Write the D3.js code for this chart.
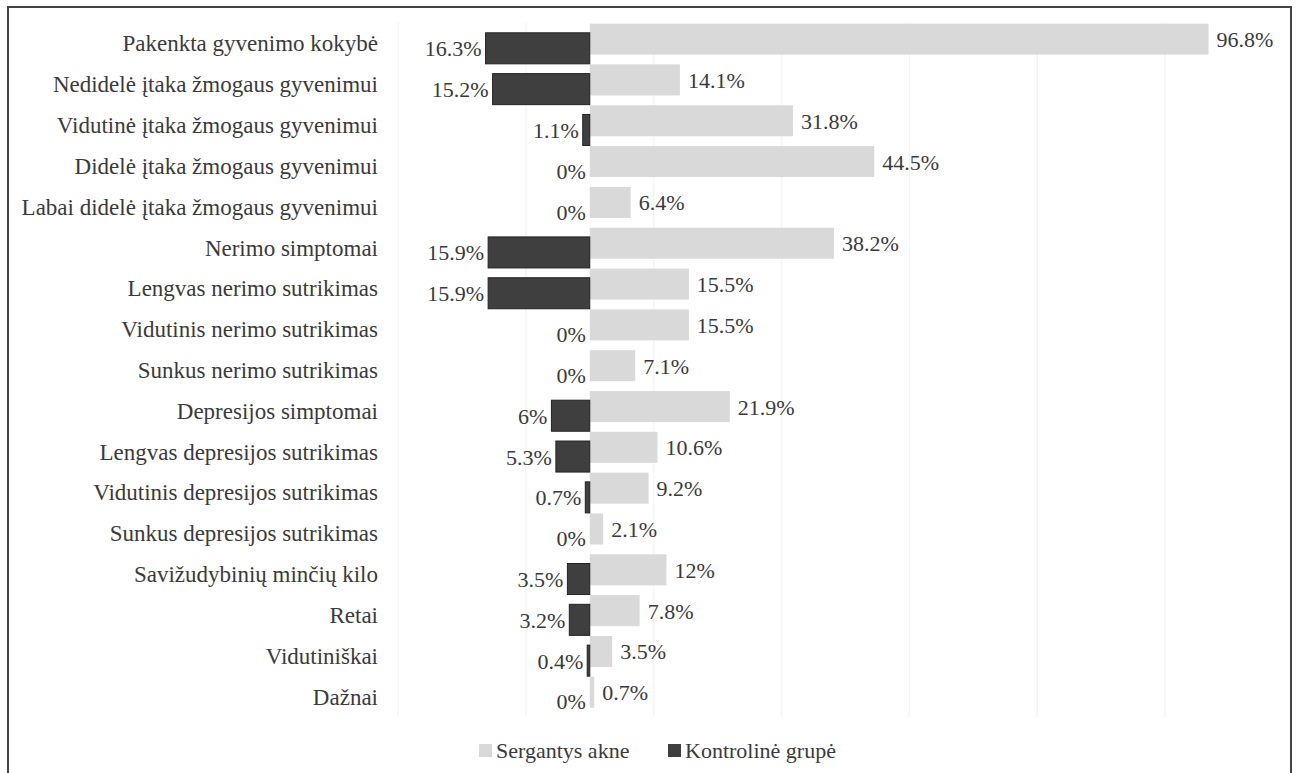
<!DOCTYPE html>
<html>
  <head>
    <meta charset="utf-8">
    <script src="https://cdnjs.cloudflare.com/ajax/libs/d3/7.8.5/d3.min.js"></script>
  </head>
  <body style="margin:0">

    <svg width="1296" height="773" font-family="Liberation Serif"></svg>

    <script>

      var categories = [
        'Pakenkta gyvenimo kokybė',
        'Nedidelė įtaka žmogaus gyvenimui',
        'Vidutinė įtaka žmogaus gyvenimui',
        'Didelė įtaka žmogaus gyvenimui',
        'Labai didelė įtaka žmogaus gyvenimui',
        'Nerimo simptomai',
        'Lengvas nerimo sutrikimas',
        'Vidutinis nerimo sutrikimas',
        'Sunkus nerimo sutrikimas',
        'Depresijos simptomai',
        'Lengvas depresijos sutrikimas',
        'Vidutinis depresijos sutrikimas',
        'Sunkus depresijos sutrikimas',
        'Savižudybinių minčių kilo',
        'Retai',
        'Vidutiniškai',
        'Dažnai'
      ];

      var akne = [96.8, 14.1, 31.8, 44.5, 6.4, 38.2, 15.5, 15.5, 7.1, 21.9, 10.6, 9.2, 2.1, 12, 7.8, 3.5, 0.7];
      var kontrol = [16.3, 15.2, 1.1, 0, 0, 15.9, 15.9, 0, 0, 6, 5.3, 0.7, 0, 3.5, 3.2, 0.4, 0];

      var gridTicks = [-30, -10, 10, 30, 50, 70, 90];
      var seriesNames = ['Sergantys akne', 'Kontrolinė grupė'];

      var lightColor = '#d9d9d9', darkColor = '#3f3f3f', textColor = '#3a3a3a';

      var rows = categories.map(function(c, i) {
        return { name: c, akne: akne[i], kontrol: kontrol[i] };
      });

      var svg = d3.select('svg');

      // outer frame
      svg.append('rect')
        .attr('x', 8).attr('y', 7)
        .attr('width', 1283).attr('height', 775)
        .attr('fill', 'none')
        .attr('stroke', '#444').attr('stroke-width', 2);

      var x = d3.scaleLinear().domain([-30, 100]).range([398, 1229]);
      var y = d3.scaleBand().domain(categories).range([23, 717]);
      var bw = y.bandwidth();
      var barH = bw * 0.76;

      // gridlines, very faint
      svg.append('g').selectAll('line')
        .data(gridTicks)
        .enter().append('line')
          .attr('x1', function(d) { return x(d); })
          .attr('x2', function(d) { return x(d); })
          .attr('y1', 23).attr('y2', 717)
          .attr('stroke', '#f5f5f5').attr('stroke-width', 1.5);

      // light bars (right)
      svg.append('g').selectAll('rect')
        .data(rows)
        .enter().append('rect')
          .attr('x', x(0))
          .attr('y', function(d) { return y(d.name) + 0.6; })
          .attr('width', function(d) { return x(d.akne) - x(0); })
          .attr('height', barH)
          .attr('fill', lightColor);

      // dark bars (left)
      svg.append('g').selectAll('rect')
        .data(rows.filter(function(d) { return d.kontrol > 0; }))
        .enter().append('rect')
          .attr('x', function(d) { return x(-d.kontrol); })
          .attr('y', function(d) { return y(d.name) + bw - barH; })
          .attr('width', function(d) { return x(0) - x(-d.kontrol); })
          .attr('height', barH)
          .attr('fill', darkColor)
          .attr('stroke', '#222').attr('stroke-width', 1);

      // category labels
      svg.append('g').selectAll('text')
        .data(rows)
        .enter().append('text')
          .attr('x', 378)
          .attr('y', function(d) { return y(d.name) + bw / 2 + 8; })
          .attr('text-anchor', 'end')
          .style('font-family', "'Liberation Serif'")
          .style('font-size', '23px')
          .attr('fill', textColor)
          .text(function(d) { return d.name; });

      // value labels
      svg.append('g').selectAll('text')
        .data(rows)
        .enter().append('text')
          .attr('x', function(d) { return x(d.akne) + 8; })
          .attr('y', function(d) { return y(d.name) + 0.6 + barH / 2 + 8; })
          .style('font-family', "'Liberation Serif'")
          .style('font-size', '22px')
          .attr('fill', textColor)
          .text(function(d) { return d.akne + '%'; });

      svg.append('g').selectAll('text')
        .data(rows)
        .enter().append('text')
          .attr('x', function(d) { return x(-d.kontrol) - 4; })
          .attr('y', function(d) { return y(d.name) + bw - barH / 2 + 8; })
          .attr('text-anchor', 'end')
          .style('font-family', "'Liberation Serif'")
          .style('font-size', '22px')
          .attr('fill', textColor)
          .text(function(d) { return d.kontrol + '%'; });

      // legend
      var legend = svg.append('g');
      var legendX = [479, 668];
      legend.selectAll('rect')
        .data(seriesNames)
        .enter().append('rect')
          .attr('x', function(d, i) { return legendX[i]; })
          .attr('y', 744)
          .attr('width', 13).attr('height', 13)
          .attr('fill', function(d, i) { return i === 0 ? lightColor : darkColor; });
      legend.selectAll('text')
        .data(seriesNames)
        .enter().append('text')
          .attr('x', function(d, i) { return legendX[i] + 17; })
          .attr('y', 758)
          .style('font-family', "'Liberation Serif'")
          .style('font-size', '22px')
          .attr('fill', textColor)
          .text(function(d) { return d; });

    </script>
  </body>
</html>
